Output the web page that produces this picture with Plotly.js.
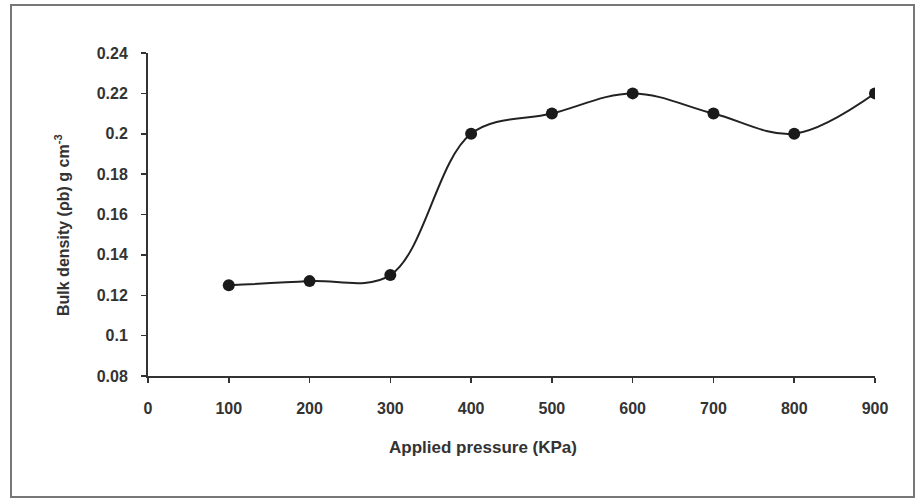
<!DOCTYPE html>
<html>
<head>
<meta charset="utf-8">
<script src="https://cdn.plot.ly/plotly-3.0.1.min.js"></script>
<style>html,body{margin:0;padding:0;background:#fff;}#chart{width:922px;height:499px;}</style>
</head>
<body>
<div id="chart"></div>
<script>
const pressure = [100, 200, 300, 400, 500, 600, 700, 800, 900];
const bulkDensity = [0.125, 0.127, 0.13, 0.2, 0.21, 0.22, 0.21, 0.2, 0.22];
const xTicks = [0, 100, 200, 300, 400, 500, 600, 700, 800, 900];
const yTicks = [0.08, 0.1, 0.12, 0.14, 0.16, 0.18, 0.2, 0.22, 0.24];
const yTickText = ["0.08", "0.1", "0.12", "0.14", "0.16", "0.18", "0.2", "0.22", "0.24"];
const xTitle = "Applied pressure (KPa)";
const yTitle = "Bulk density (ρb) g cm<sup>-3</sup>";

const font = "Liberation Sans, Arial, sans-serif";
const trace = {
  x: pressure, y: bulkDensity, type: "scatter", mode: "lines+markers",
  line: {shape: "spline", smoothing: 1, color: "#222", width: 2},
  marker: {color: "#1a1a1a", size: 12}
};
const layout = {
  width: 922, height: 499,
  margin: {l: 148, r: 47, t: 53, b: 123},
  paper_bgcolor: "#fff", plot_bgcolor: "#fff",
  showlegend: false,
  xaxis: {
    range: [0, 900], tickvals: xTicks, ticktext: xTicks.map(String),
    showgrid: false, zeroline: false, showline: true, linecolor: "#333", linewidth: 2,
    ticks: "outside", ticklen: 5, tickcolor: "#333", tickwidth: 1.5,
    ticklabelstandoff: 12,
    tickfont: {family: font, size: 16, color: "#333", weight: "bold"}
  },
  yaxis: {
    range: [0.08, 0.24], tickvals: yTicks, ticktext: yTickText,
    showgrid: false, zeroline: false, showline: true, linecolor: "#333", linewidth: 2,
    ticks: "outside", ticklen: 5, tickcolor: "#333", tickwidth: 1.5,
    ticklabelstandoff: 10,
    tickfont: {family: font, size: 16, color: "#333", weight: "bold"}
  },
  annotations: [
    {text: xTitle, xref: "paper", yref: "paper", x: (483 - 148) / 727, y: (376 - 448) / 323,
     xanchor: "center", yanchor: "middle", showarrow: false,
     font: {family: font, size: 17, color: "#333", weight: "bold"}},
    {text: yTitle, xref: "paper", yref: "paper", x: (62 - 148) / 727, y: (376 - 225) / 323,
     xanchor: "center", yanchor: "middle", showarrow: false, textangle: -90,
     font: {family: font, size: 16, color: "#333", weight: "bold"}}
  ],
  shapes: [{
    type: "rect", xref: "paper", yref: "paper",
    x0: (11 - 148) / 727, x1: (914 - 148) / 727,
    y0: (376 - 497) / 323, y1: (376 - 5) / 323,
    line: {color: "#777", width: 2}
  }]
};
Plotly.newPlot("chart", [trace], layout, {displayModeBar: false, staticPlot: true});
</script>
</body>
</html>
